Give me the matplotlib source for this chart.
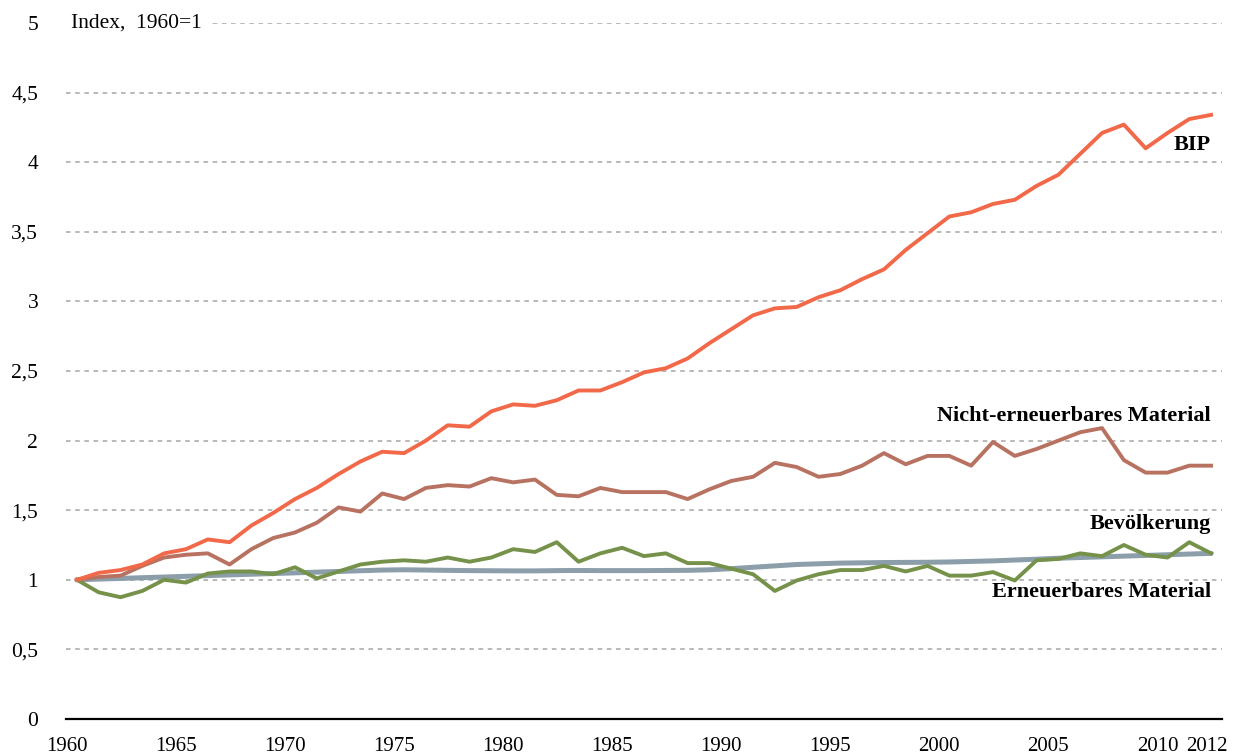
import numpy as np
import matplotlib
matplotlib.use("Agg")
import matplotlib.pyplot as plt
import matplotlib.transforms as mtransforms

years = np.arange(1960, 2013)

bip = [1.00, 1.05, 1.07, 1.11, 1.19, 1.22, 1.29, 1.27, 1.39, 1.48,
       1.58, 1.66, 1.76, 1.85, 1.92, 1.91, 2.00, 2.11, 2.10, 2.21,
       2.26, 2.25, 2.29, 2.36, 2.36, 2.42, 2.49, 2.52, 2.59, 2.70,
       2.80, 2.90, 2.95, 2.96, 3.03, 3.08, 3.16, 3.23, 3.37, 3.49,
       3.61, 3.64, 3.70, 3.73, 3.83, 3.91, 4.06, 4.21, 4.27, 4.10,
       4.21, 4.31, 4.34]

nicht_erneuerbar = [1.00, 1.02, 1.03, 1.10, 1.16, 1.18, 1.19, 1.11, 1.22, 1.30,
                    1.34, 1.41, 1.52, 1.49, 1.62, 1.58, 1.66, 1.68, 1.67, 1.73,
                    1.70, 1.72, 1.61, 1.60, 1.66, 1.63, 1.63, 1.63, 1.58, 1.65,
                    1.71, 1.74, 1.84, 1.81, 1.74, 1.76, 1.82, 1.91, 1.83, 1.89,
                    1.89, 1.82, 1.99, 1.89, 1.94, 2.00, 2.06, 2.09, 1.86, 1.77,
                    1.77, 1.82, 1.82]

bevoelkerung = [1.000, 1.005, 1.010, 1.015, 1.020, 1.025, 1.030, 1.035, 1.040, 1.045,
                1.050, 1.055, 1.060, 1.065, 1.070, 1.072, 1.070, 1.068, 1.066, 1.065,
                1.064, 1.064, 1.066, 1.067, 1.066, 1.066, 1.066, 1.067, 1.068, 1.072,
                1.080, 1.090, 1.100, 1.110, 1.115, 1.120, 1.122, 1.124, 1.125, 1.126,
                1.128, 1.132, 1.136, 1.142, 1.148, 1.155, 1.160, 1.165, 1.170, 1.175,
                1.180, 1.185, 1.190]

erneuerbar = [1.00, 0.91, 0.875, 0.92, 1.00, 0.98, 1.045, 1.06, 1.06, 1.04,
              1.09, 1.01, 1.06, 1.11, 1.13, 1.14, 1.13, 1.16, 1.13, 1.16,
              1.22, 1.20, 1.27, 1.13, 1.19, 1.23, 1.17, 1.19, 1.12, 1.12,
              1.08, 1.04, 0.92, 0.995, 1.04, 1.07, 1.07, 1.10, 1.06, 1.10,
              1.03, 1.03, 1.055, 0.995, 1.14, 1.15, 1.19, 1.17, 1.25, 1.18,
              1.16, 1.27, 1.19]

x_ticks = [1960, 1965, 1970, 1975, 1980, 1985, 1990, 1995, 2000, 2005, 2010, 2012]
y_ticks = [0, 0.5, 1, 1.5, 2, 2.5, 3, 3.5, 4, 4.5, 5]
y_labels = ["0", "0,5", "1", "1,5", "2", "2,5", "3", "3,5", "4", "4,5", "5"]

plt.rcParams["font.family"] = ["Liberation Serif", "DejaVu Serif"]

fig = plt.figure(figsize=(12.36, 7.56), dpi=100)
ax = fig.add_axes([66 / 1236, 1 - 719 / 756, (1222 - 66) / 1236, (719 - 23) / 756])

# dashed gridlines
for y in y_ticks[1:]:
    ax.axhline(y, color="#a6a6a6", lw=1.1, ls=(0, (3, 3)), zorder=1)

ax.plot(years, bevoelkerung, color="#8b9ea9", lw=3.6, zorder=3, solid_capstyle="round")
ax.plot(years, erneuerbar, color="#76924a", lw=2.8, zorder=4)
ax.plot(years, nicht_erneuerbar, color="#b87261", lw=2.8, zorder=5)
ax.plot(years, bip, color="#f2694a", lw=2.8, zorder=6)

ax.set_xlim(1959.5, 2012.5)
ax.set_ylim(0, 5)

ax.set_yticks(y_ticks)
ax.set_yticklabels(y_labels)
ax.set_xticks(x_ticks)
ax.set_xticklabels([str(t) for t in x_ticks])
ax.tick_params(axis="y", length=0, pad=20, labelsize=15.5)
ax.tick_params(axis="x", length=0, pad=13, labelsize=15)

# year labels sit a bit left of their data points
for lbl in ax.get_xticklabels():
    dx = -4 if lbl.get_text() == "2012" else -10
    lbl.set_transform(lbl.get_transform() + mtransforms.ScaledTranslation(dx / 100, 0, fig.dpi_scale_trans))

for side in ["top", "right", "left"]:
    ax.spines[side].set_visible(False)
ax.spines["bottom"].set_color("black")
ax.spines["bottom"].set_linewidth(1.6)

ax.text(1959.75, 5, "Index,  1960=1", fontsize=15.5, ha="left", va="center",
        zorder=7, bbox=dict(facecolor="white", edgecolor="none", pad=4))

ax.text(2012, 4.12, "BIP", fontsize=16, fontweight="bold", ha="right", va="center", zorder=7)
ax.text(2012, 2.18, "Nicht-erneuerbares Material", fontsize=16, fontweight="bold",
        ha="right", va="center", zorder=7)
ax.text(2012, 1.40, "Bevölkerung", fontsize=16, fontweight="bold", ha="right", va="center", zorder=7)
ax.text(2012, 0.91, "Erneuerbares Material", fontsize=16, fontweight="bold",
        ha="right", va="center", zorder=7)

fig.savefig("out.png", dpi=100)
plt.close(fig)
